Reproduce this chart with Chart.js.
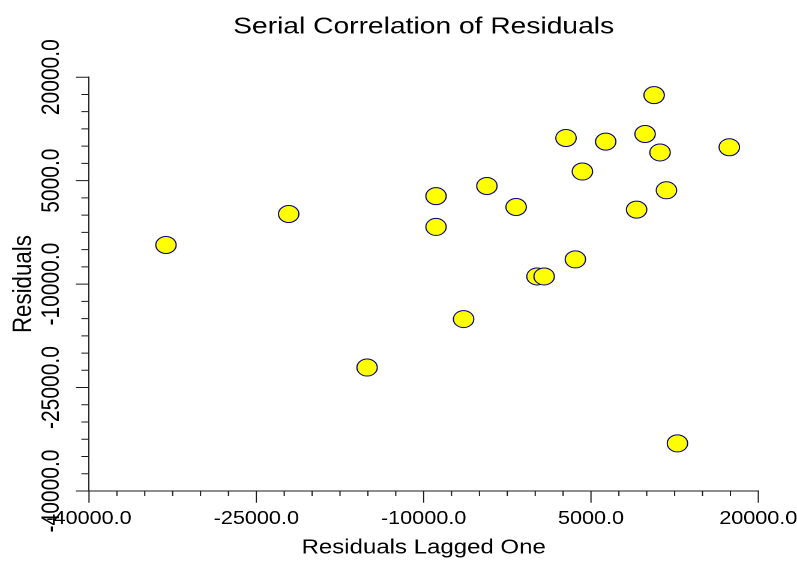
<!DOCTYPE html>
<html>
<head>
<meta charset="utf-8">
<script src="https://cdn.jsdelivr.net/npm/chart.js@4.4.1/dist/chart.umd.min.js"></script>
<style>
  html, body { margin: 0; padding: 0; background: #ffffff; overflow: hidden; }
  #wrap { position: absolute; left: 0; top: 0; width: 664px; height: 570px;
          transform: scaleX(1.200301); transform-origin: 0 0; }
</style>
</head>
<body>
<div id="wrap"><canvas id="chart"></canvas></div>
<script>
// ---- data ----
const chartTitle = 'Serial Correlation of Residuals';
const xAxisTitle = 'Residuals Lagged One';
const yAxisTitle = 'Residuals';

const residualsLaggedOne = [12750, -33100, -4330, 4230, 6320, 10660, 17400, 9850, 11765, 3600,
                            -6420, -15070, -22100, 160, -8890, 2760, 11190, 9090, 800, -8890, -1710];
const residuals          = [-33100, -4330, 4230, 6320, 10660, 17400, 9850, 11765, 3600, -6420,
                            -15070, -22100, 160, -8890, 2760, 11190, 9090, 800, -8890, -1710, 1180];

const xTickValues = [-40000, -25000, -10000, 5000, 20000];
const yTickValues = [-40000, -25000, -10000, 5000, 20000];
const minorStep = 2500;

// ---- styling ----
const FONT = 'Arial, "Liberation Sans", sans-serif';
const AXIS_COLOR = '#1a1a1a';

const points = residualsLaggedOne.map((x, i) => ({ x: x, y: residuals[i] }));

// tick marks (major + minor) drawn through the chart's own scales
const tickMarks = {
  id: 'tickMarks',
  afterDraw(chart) {
    const ctx = chart.ctx;
    const xs = chart.scales.x, ys = chart.scales.y;
    const area = chart.chartArea;
    ctx.save();
    ctx.strokeStyle = AXIS_COLOR;
    ctx.lineWidth = 1;
    ctx.beginPath();
    for (let v = xs.min; v <= xs.max + 1e-6; v += minorStep) {
      const px = xs.getPixelForValue(v);
      const len = xTickValues.includes(v) ? 11.7 : 5;
      ctx.moveTo(px, area.bottom);
      ctx.lineTo(px, area.bottom + len);
    }
    for (let v = ys.min; v <= ys.max + 1e-6; v += minorStep) {
      const py = ys.getPixelForValue(v);
      const len = yTickValues.includes(v) ? 11 : 6.4;
      ctx.moveTo(area.left, py);
      ctx.lineTo(area.left - len, py);
    }
    ctx.stroke();
    ctx.restore();
  }
};

new Chart(document.getElementById('chart'), {
  type: 'scatter',
  data: {
    datasets: [{
      data: points,
      pointRadius: 8.5,
      pointHoverRadius: 8.5,
      pointBackgroundColor: '#ffff00',
      pointBorderColor: '#000080',
      pointBorderWidth: 1
    }]
  },
  options: {
    responsive: true,
    maintainAspectRatio: false,
    devicePixelRatio: 2,
    animation: false,
    events: [],
    layout: { padding: { left: 0, right: 32.25, top: 0, bottom: 0 } },
    plugins: {
      legend: { display: false },
      tooltip: { enabled: false },
      title: {
        display: true,
        fullSize: false,
        text: chartTitle,
        color: '#000000',
        font: { family: FONT, size: 23.5, weight: 'normal' },
        padding: { top: 13, bottom: 36 }
      }
    },
    scales: {
      x: {
        type: 'linear',
        min: -40000,
        max: 20000,
        afterBuildTicks: s => { s.ticks = xTickValues.map(v => ({ value: v })); },
        afterFit: s => { s.height = 79; s.paddingLeft = 0; s.paddingRight = 0; },
        grid: { display: false },
        border: { display: true, color: AXIS_COLOR, width: 1 },
        ticks: {
          autoSkip: false,
          maxRotation: 0,
          padding: 9,
          color: '#000000',
          font: { family: FONT, size: 18 },
          callback: v => Number(v).toFixed(1)
        },
        title: {
          display: true,
          text: xAxisTitle,
          color: '#000000',
          font: { family: FONT, size: 20 },
          padding: { top: 0, bottom: 10 }
        }
      },
      y: {
        type: 'linear',
        min: -40000,
        max: 20000,
        afterBuildTicks: s => { s.ticks = yTickValues.map(v => ({ value: v })); },
        afterFit: s => { s.width = 74.15; s.paddingTop = 0; s.paddingBottom = 0; },
        grid: { display: false },
        border: { display: true, color: AXIS_COLOR, width: 1 },
        ticks: {
          autoSkip: false,
          minRotation: 90,
          maxRotation: 90,
          crossAlign: 'center',
          padding: -18.65,
          color: '#000000',
          font: { family: FONT, size: 21 },
          callback: v => Number(v).toFixed(1)
        },
        title: {
          display: true,
          text: yAxisTitle,
          color: '#000000',
          font: { family: FONT, size: 22.3 },
          padding: { top: 6.3, bottom: 0 }
        }
      }
    }
  },
  plugins: [tickMarks]
});
</script>
</body>
</html>
